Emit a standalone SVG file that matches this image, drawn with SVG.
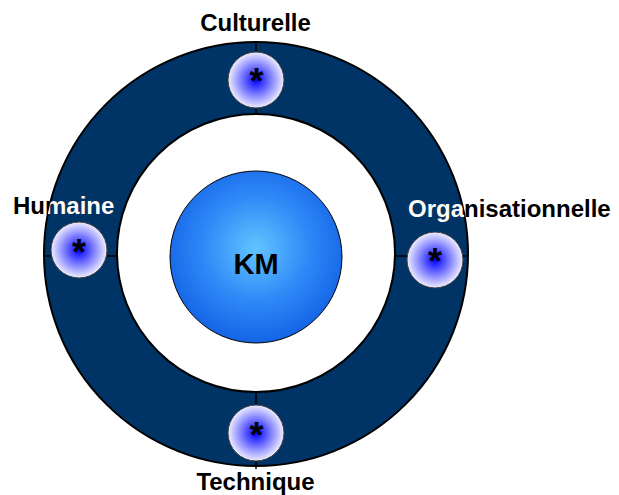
<svg xmlns="http://www.w3.org/2000/svg" width="619" height="495" viewBox="0 0 619 495">
  <style>
    .lbl { font-family: "Liberation Sans", Arial, sans-serif; font-weight: bold; font-size: 24px; }
    .ast { font-family: "Liberation Sans", Arial, sans-serif; font-weight: bold; font-size: 36px; fill: #000; text-anchor: middle; }
    .dot { fill: url(#dotGrad); stroke: #404040; stroke-width: 1; }
    .conn { stroke: #000; stroke-width: 1.5; fill: none; }
  </style>
  <defs>
    <radialGradient id="dotGrad" cx="50%" cy="50%" r="50%">
      <stop offset="0%" stop-color="#0000ff"/>
      <stop offset="100%" stop-color="#eeeeff"/>
    </radialGradient>
    <radialGradient id="kmGrad" cx="50%" cy="45%" r="55%">
      <stop offset="0%" stop-color="#62c4ff"/>
      <stop offset="55%" stop-color="#2f8af7"/>
      <stop offset="100%" stop-color="#1464e6"/>
    </radialGradient>
    <clipPath id="ringClip">
      <path clip-rule="evenodd" d="M 44 254 A 212 212 0 1 0 468 254 A 212 212 0 1 0 44 254 Z M 117 253 A 139 139 0 1 1 395 253 A 139 139 0 1 1 117 253 Z"/>
    </clipPath>
  </defs>
  <rect width="619" height="495" fill="#ffffff"/>

  <g id="ring">
    <path fill="#003366" fill-rule="evenodd" stroke="#000" stroke-width="2" d="M 44 254 A 212 212 0 1 0 468 254 A 212 212 0 1 0 44 254 Z M 117 253 A 139 139 0 1 1 395 253 A 139 139 0 1 1 117 253 Z"/>
  </g>

  <g id="connectors">
    <line class="conn" x1="256" y1="42" x2="256" y2="115"/>
    <line class="conn" x1="43" y1="256" x2="117" y2="256"/>
    <line class="conn" x1="395" y1="256" x2="468" y2="256"/>
    <line class="conn" x1="256" y1="391" x2="256" y2="469"/>
  </g>

  <g id="node-km">
    <circle cx="256" cy="257" r="86" fill="url(#kmGrad)" stroke="#000" stroke-width="1"/>
    <text class="lbl" x="256" y="274" text-anchor="middle" font-size="29" style="font-size:29px">KM</text>
  </g>

  <g id="node-culturelle">
    <circle class="dot" cx="256" cy="80" r="28"/>
    <text class="ast" x="256.5" y="94">*</text>
    <text class="lbl" x="255.5" y="31" text-anchor="middle" fill="#000">Culturelle</text>
  </g>

  <g id="node-humaine">
    <circle class="dot" cx="79" cy="250" r="28"/>
    <text class="ast" x="79" y="265">*</text>
    <text class="lbl" x="13" y="214" fill="#000">Humaine</text>
    <text class="lbl" x="13" y="214" fill="#fff" clip-path="url(#ringClip)">Humaine</text>
  </g>

  <g id="node-organisationnelle">
    <circle class="dot" cx="435" cy="260" r="28"/>
    <text class="ast" x="435" y="274">*</text>
    <text class="lbl" x="408" y="217" fill="#000">Organisationnelle</text>
    <text class="lbl" x="408" y="217" fill="#fff" clip-path="url(#ringClip)">Organisationnelle</text>
  </g>

  <g id="node-technique">
    <circle class="dot" cx="256" cy="433" r="28"/>
    <text class="ast" x="256.5" y="448">*</text>
    <text class="lbl" x="255.5" y="490" text-anchor="middle" fill="#000">Technique</text>
  </g>
</svg>
